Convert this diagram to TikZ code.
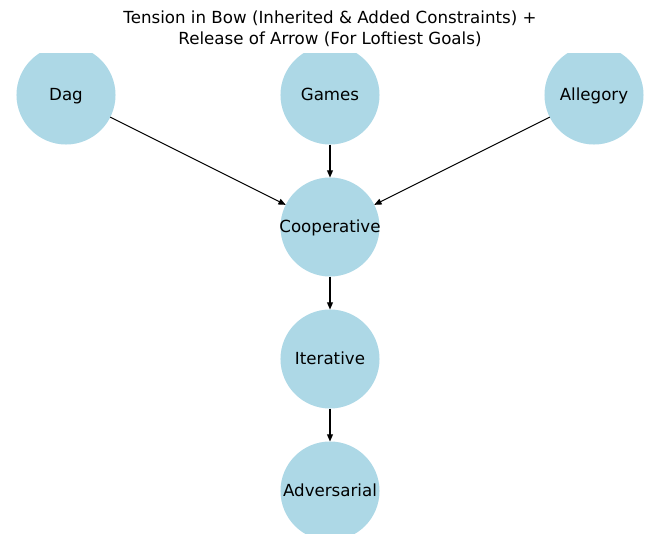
\documentclass[tikz,border=0pt]{standalone}
\usepackage{fontspec}
\setmainfont{DejaVu Sans}
\usetikzlibrary{arrows.meta}
\begin{document}
\begin{tikzpicture}[x=0.72pt,y=-0.72pt,
  gnode/.style={circle,fill=lightblue,minimum size=71.3pt,inner sep=0pt,outer sep=0pt,text height=9pt,text depth=0.4pt,font=\fontsize{12}{14}\selectfont},
  edge/.style={draw=black,line width=0.8pt,-{Triangle[length=5.2pt,width=4.3pt]}}]
\definecolor{lightblue}{HTML}{ADD8E6}
\useasboundingbox (0,0) rectangle (660,543);
\node[font=\fontsize{12}{15}\selectfont,align=center] (title) at (330,29) {Tension in Bow (Inherited \& Added Constraints) +\\Release of Arrow (For Loftiest Goals)};
\begin{scope}
\clip (0,53) rectangle (660,533);
\node[gnode] (dag) at (66,95) {\makebox[0pt]{Dag}};
\node[gnode] (games) at (330,95) {\makebox[0pt]{Games}};
\node[gnode] (alle) at (594,95) {\makebox[0pt]{Allegory}};
\node[gnode] (coop) at (330,227) {\makebox[0pt]{Cooperative}};
\node[gnode] (iter) at (330,359) {\makebox[0pt]{Iterative}};
\node[gnode] (adv) at (330,491) {\makebox[0pt]{Adversarial}};
\end{scope}
\draw[edge] (dag) -- (coop);
\draw[edge] (games) -- (coop);
\draw[edge] (alle) -- (coop);
\draw[edge] (coop) -- (iter);
\draw[edge] (iter) -- (adv);
\end{tikzpicture}
\end{document}
